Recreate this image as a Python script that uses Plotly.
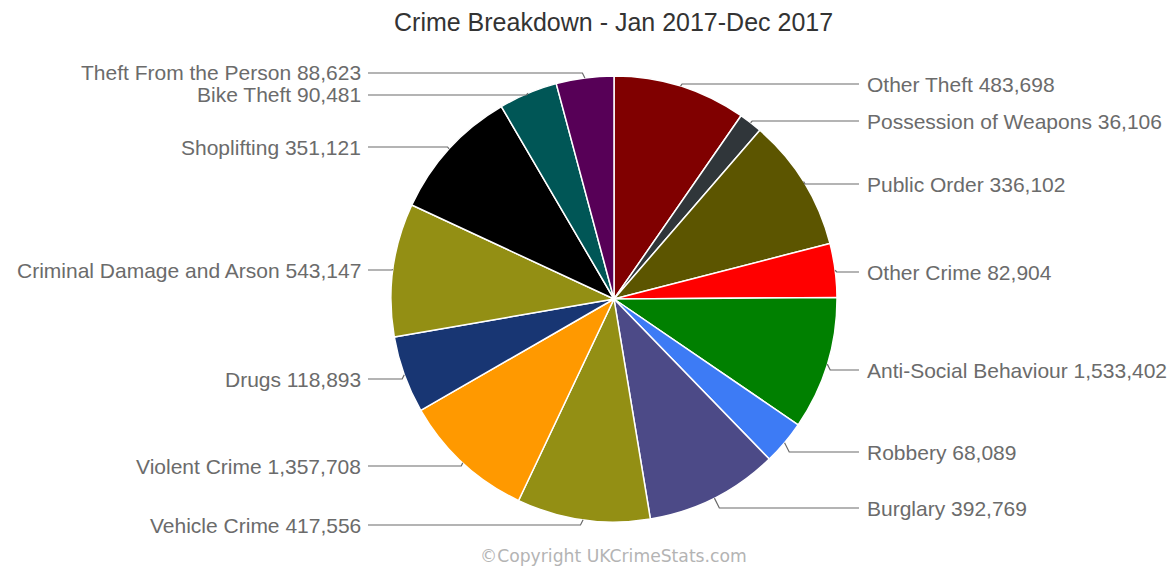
import math
import plotly.graph_objects as go

# ---------------- data ----------------
categories = [
    "Other Theft", "Possession of Weapons", "Public Order", "Other Crime",
    "Anti-Social Behaviour", "Robbery", "Burglary", "Vehicle Crime",
    "Violent Crime", "Drugs", "Criminal Damage and Arson", "Shoplifting",
    "Bike Theft", "Theft From the Person",
]
counts = [
    483698, 36106, 336102, 82904,
    1533402, 68089, 392769, 417556,
    1357708, 118893, 543147, 351121,
    90481, 88623,
]
# the source chart clips large slices to a common maximum size
slice_cap = 205000
colors = [
    "#800000", "#30363a", "#5c5500", "#ff0000",
    "#008000", "#3d7bf5", "#4c4a87", "#938f14",
    "#ff9900", "#183673", "#938f14", "#000000",
    "#005656", "#570057",
]
title_text = "Crime Breakdown - Jan 2017-Dec 2017"
credit_text = "\u00a9Copyright UKCrimeStats.com"

# ---------------- layout constants (page pixels) ----------------
PAGE_OFF = 8            # default body margin of the html page
W, H = 1176 - 2 * PAGE_OFF, 569 - PAGE_OFF
CX, CY, R = 614, 299, 223
label_y_px = [84, 121, 184, 272, 370, 452, 508, 525, 466, 379, 270, 147, 95, 73]
RIGHT_TEXT_X, LEFT_TEXT_X = 865, 363
RIGHT_LINE_END, LEFT_LINE_END = 859, 368

slice_values = [min(v, slice_cap) for v in counts]


def px(x):
    return (x - PAGE_OFF) / W


def py(y):
    return 1 - (y - PAGE_OFF) / H


fig = go.Figure()
fig.add_trace(go.Pie(
    labels=categories,
    values=slice_values,
    customdata=counts,
    sort=False,
    direction="clockwise",
    rotation=0,
    textinfo="none",
    hovertemplate="%{label}: %{customdata:,}<extra></extra>",
    marker=dict(colors=colors, line=dict(color="#ffffff", width=1.5)),
    domain=dict(x=[px(CX - R), px(CX + R)], y=[py(CY + R), py(CY - R)]),
    showlegend=False,
))

total = sum(slice_values)
annotations = []
shapes = []
cum = 0.0
for name, cnt, val, ly in zip(categories, counts, slice_values, label_y_px):
    mid = (cum + val / 2) / total * 2 * math.pi
    cum += val
    ex = CX + R * math.sin(mid)
    ey = CY - R * math.cos(mid)
    right = math.sin(mid) >= 0
    s = 1 if right else -1
    bx = ex + s * max(1.5, abs(ly - ey) * 0.5)
    lx = RIGHT_LINE_END if right else LEFT_LINE_END
    path = "M {:.5f},{:.5f} L {:.5f},{:.5f} L {:.5f},{:.5f}".format(
        px(ex), py(ey), px(bx), py(ly), px(lx), py(ly))
    shapes.append(dict(type="path", xref="paper", yref="paper", path=path,
                       line=dict(color="#6a6a6a", width=1.2)))
    annotations.append(dict(
        xref="paper", yref="paper",
        x=px(RIGHT_TEXT_X if right else LEFT_TEXT_X), y=py(ly),
        xanchor="left" if right else "right", yanchor="middle",
        text=f"{name} {cnt:,}", showarrow=False,
        font=dict(family="Liberation Sans, Arial, sans-serif", size=21, color="#6b6b6b"),
    ))

annotations.append(dict(
    xref="paper", yref="paper", x=px(613), y=py(22),
    xanchor="center", yanchor="middle", text=title_text, showarrow=False,
    font=dict(family="Liberation Sans, Arial, sans-serif", size=25, color="#333333"),
))
annotations.append(dict(
    xref="paper", yref="paper", x=px(613), y=py(556),
    xanchor="center", yanchor="middle", text=credit_text, showarrow=False,
    font=dict(family="DejaVu Sans, Verdana, sans-serif", size=17.2, color="#b4b4b4"),
))

fig.update_layout(
    width=W, height=H,
    margin=dict(l=0, r=0, t=0, b=0),
    paper_bgcolor="#ffffff",
    plot_bgcolor="#ffffff",
    annotations=annotations,
    shapes=shapes,
)

fig.write_html("out.html")
